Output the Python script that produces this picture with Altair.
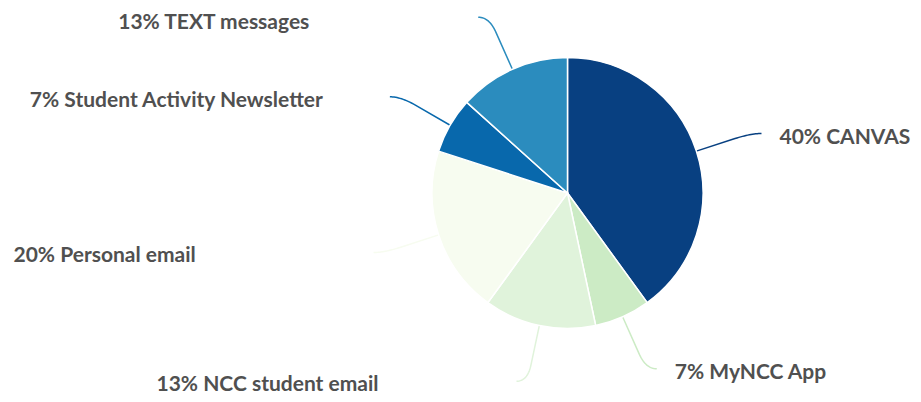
import math
import altair as alt
import pandas as pd

# ---- data ----
categories = ["CANVAS", "MyNCC App", "NCC student email", "Personal email",
              "Student Activity Newsletter", "TEXT messages"]
labels = ["40% CANVAS", "7% MyNCC App", "13% NCC student email", "20% Personal email",
          "7% Student Activity Newsletter", "13% TEXT messages"]
counts = [6, 1, 2, 3, 1, 2]
colors = ["#084081", "#ccebc5", "#e0f3db", "#f7fcf0", "#0868ac", "#2b8cbe"]

# ---- layout (pixels) ----
W, H = 905, 386
R = 135.5
CX, CY = 559.5, 185.0
FS = 21
xscale = alt.Scale(domain=[-CX / R, (W - CX) / R], nice=False, zero=False)
yscale = alt.Scale(domain=[-(H - CY) / R, CY / R], nice=False, zero=False)

pie_df = pd.DataFrame({"cat": categories, "count": counts, "idx": list(range(len(counts))),
                       "cx": 0.0, "cy": 0.0})

# leader lines and label anchors derived from slice mid-angles
total = sum(counts)
line_rows, text_rows = [], []
cum = 0
for i, (cat, c, lab) in enumerate(zip(categories, counts, labels)):
    mid = (cum + c / 2) / total * 2 * math.pi
    cum += c
    sx, cy_ = math.sin(mid), math.cos(mid)
    side = 1 if sx >= 0 else -1
    p0 = (sx, cy_)
    b = (1.3 * sx, 1.3 * cy_)
    q = (1.42 * sx, 1.42 * cy_)
    e = (q[0] + side * 11 / R, q[1])
    pts = [p0]
    n = 16
    for k in range(n + 1):
        t = k / n
        x = (1 - t) ** 2 * b[0] + 2 * (1 - t) * t * q[0] + t ** 2 * e[0]
        y = (1 - t) ** 2 * b[1] + 2 * (1 - t) * t * q[1] + t ** 2 * e[1]
        pts.append((x, y))
    for k, (x, y) in enumerate(pts):
        line_rows.append({"cat": cat, "k": k, "x": x, "y": y})
    tx = e[0] + (18 / R if side > 0 else -360 / R)
    ty = min(e[1], (CY + 10 - FS) / R)  # keep the top label inside the view
    text_rows.append({"label": lab, "x": tx, "y": ty})

line_df = pd.DataFrame(line_rows)
text_df = pd.DataFrame(text_rows)

color_scale = alt.Scale(domain=categories, range=colors)

pie = alt.Chart(pie_df).mark_arc(radius=R, stroke="#ffffff", strokeWidth=1.5).encode(
    theta=alt.Theta("count:Q", stack=True),
    order=alt.Order("idx:Q"),
    color=alt.Color("cat:N", scale=color_scale, legend=None),
    x=alt.X("cx:Q", scale=xscale, axis=None),
    y=alt.Y("cy:Q", scale=yscale, axis=None),
)

lines = alt.Chart(line_df).mark_line(strokeWidth=1.5).encode(
    x=alt.X("x:Q", scale=xscale, axis=None),
    y=alt.Y("y:Q", scale=yscale, axis=None),
    color=alt.Color("cat:N", scale=color_scale, legend=None),
    detail="cat:N",
    order="k:Q",
)

texts = alt.Chart(text_df).mark_text(
    align="left", baseline="alphabetic", dy=10, font="Lato", fontSize=FS,
    fontWeight="bold", color="#505050"
).encode(
    x=alt.X("x:Q", scale=xscale, axis=None),
    y=alt.Y("y:Q", scale=yscale, axis=None),
    text="label:N",
)

chart = alt.layer(lines, pie, texts).properties(
    width=W, height=H, padding=0, autosize=alt.AutoSizeParams(type="none")
).configure_view(stroke=None)

chart.save("out.html", embed_options={"renderer": "svg", "actions": False})
